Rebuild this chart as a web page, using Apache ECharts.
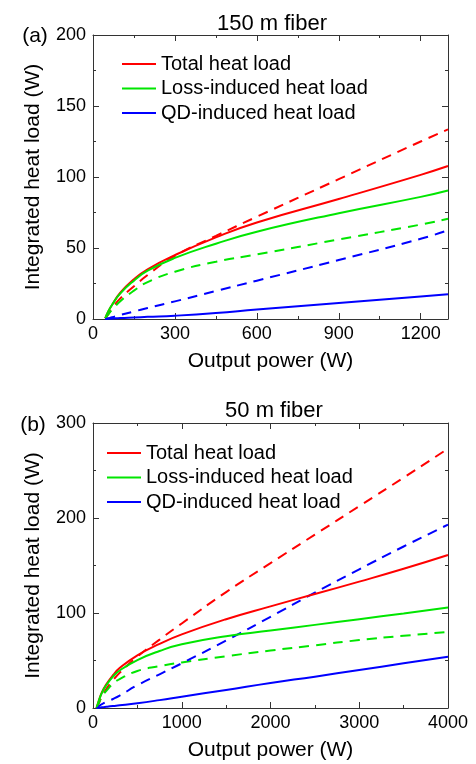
<!DOCTYPE html>
<html>
<head>
<meta charset="utf-8">
<script src="https://cdn.jsdelivr.net/npm/echarts@6/dist/echarts.min.js"></script>
<style>
  html, body { margin: 0; padding: 0; background: #fff; }
  #chart { width: 476px; height: 764px; }
</style>
</head>
<body>
<div id="chart"></div>
<script>
// (a) 150 m fiber
const powerA = [45, 55, 70, 100, 150, 200, 300, 450, 600, 900, 1200, 1300]
const totalA = [0.5, 5, 10, 18.5, 28, 35, 45, 57.5, 68, 84.5, 101.5, 107.7]
const lossA = [0.5, 5, 10, 18, 27, 34, 43, 53, 61.5, 74.5, 86, 90.5]
const qdA = [0, 0.1, 0.3, 0.7, 1.1, 1.5, 2.3, 4.2, 6.7, 11.3, 15.9, 17.4]
const totalDashA = [0.5, 3, 7.5, 14.5, 23, 31, 44.5, 58.5, 72, 98.5, 125, 133.5]
const lossDashA = [0.5, 3, 6.5, 12.5, 20, 26, 33.3, 40.3, 45.5, 56, 66.5, 70.6]
const qdDashA = [0, 0.5, 1.2, 2.8, 5.3, 7.7, 12.4, 19.7, 27, 41.5, 56.5, 62.5]

// (b) 50 m fiber
const powerB = [40, 60, 100, 150, 225, 300, 500, 750, 1000, 1500, 2000, 2500, 3000, 3500, 4000]
const totalB = [0, 6, 16.5, 25, 34.5, 42, 55.5, 67.5, 77.5, 93.5, 107, 120, 133, 146.5, 161]
const lossB = [0, 6, 16, 24, 33, 39.5, 50.5, 60, 67, 75.5, 81.5, 87.5, 93.5, 99.5, 105.8]
const qdB = [0, 0.2, 0.7, 1.3, 2.1, 2.8, 5, 8.3, 11.9, 19, 26.3, 33, 40, 47, 54]
const totalDashB = [0, 4, 12, 20, 29, 37, 54, 72, 89, 122, 152.5, 182.5, 212.5, 242.5, 273]
const lossDashB = [0, 4, 12, 18, 25.5, 30.5, 39, 44, 48, 54.5, 60.5, 66, 71.5, 76, 80]
const qdDashB = [0, 1.5, 4, 6.5, 9.5, 13, 24, 35.5, 47, 71, 96, 121.5, 146, 170, 193]

const names = ['Total heat load', 'Loss-induced heat load', 'QD-induced heat load']
const colors = ['#ff0000', '#00e600', '#0000ff']

const font = 'Liberation Sans, Arial, sans-serif'

function pairs(xs, ys) {
  return xs.map((x, i) => [x, ys[i]])
}

function makeLine(name, xs, ys, color, dashed, idx) {
  return {
    name: name,
    type: 'line',
    xAxisIndex: idx * 2,
    yAxisIndex: idx * 2,
    data: pairs(xs, ys),
    smooth: 0.5,
    symbol: 'none',
    lineStyle: { color: color, width: 2, type: dashed ? [10, 7] : 'solid' },
    itemStyle: { color: color },
    z: dashed ? 2 : 3
  }
}

function xAxes(max, interval, gridIndex, showMax) {
  const base = {
    gridIndex: gridIndex,
    type: 'value',
    min: 0,
    max: max,
    interval: interval,
    axisLine: { show: true, onZero: false, lineStyle: { color: '#333', width: 1 } },
    axisTick: { show: true, inside: true, length: 6, lineStyle: { color: '#333' } },
    minorTick: { show: true, splitNumber: 2, length: 3, lineStyle: { color: '#333' } },
    splitLine: { show: false }
  }
  return [
    Object.assign({}, base, {
      position: 'bottom',
      name: 'Output power (W)',
      nameLocation: 'middle',
      nameGap: 32,
      nameTextStyle: { fontFamily: font, fontSize: 21, color: '#000' },
      axisLabel: {
        fontFamily: font, fontSize: 18, color: '#000', margin: 6,
        showMaxLabel: showMax,
        formatter: (v) => String(v)
      }
    }),
    Object.assign({}, base, { position: 'top', axisLabel: { show: false } })
  ]
}

function yAxes(max, interval, gridIndex) {
  const base = {
    gridIndex: gridIndex,
    type: 'value',
    min: 0,
    max: max,
    interval: interval,
    axisLine: { show: true, onZero: false, lineStyle: { color: '#333', width: 1 } },
    axisTick: { show: true, inside: true, length: 6, lineStyle: { color: '#333' } },
    minorTick: { show: true, splitNumber: 2, length: 3, lineStyle: { color: '#333' } },
    splitLine: { show: false }
  }
  return [
    Object.assign({}, base, {
      position: 'left',
      name: 'Integrated heat load (W)',
      nameLocation: 'middle',
      nameGap: 49,
      nameTextStyle: { fontFamily: font, fontSize: 21, color: '#000' },
      axisLabel: { fontFamily: font, fontSize: 18, color: '#000', margin: 7 }
    }),
    Object.assign({}, base, { position: 'right', axisLabel: { show: false } })
  ]
}

function legend(left, top) {
  return {
    orient: 'vertical',
    left: left,
    top: top,
    data: names,
    icon: 'rect',
    itemWidth: 34,
    itemHeight: 2,
    itemGap: 4.5,
    selectedMode: false,
    textStyle: { fontFamily: font, fontSize: 20, color: '#000', lineHeight: 20 }
  }
}

const chartDom = document.getElementById('chart')
const myChart = echarts.init(chartDom)

const option = {
  animation: false,
  backgroundColor: '#fff',
  title: [
    { text: '150 m fiber', left: 267, top: 8, textAlign: 'center',
      textStyle: { fontFamily: font, fontSize: 22, fontWeight: 'normal', color: '#000' } },
    { text: '50 m fiber', left: 269, top: 395, textAlign: 'center',
      textStyle: { fontFamily: font, fontSize: 22, fontWeight: 'normal', color: '#000' } },
    { text: '(a)', left: 30, top: 21, textAlign: 'center',
      textStyle: { fontFamily: font, fontSize: 21, fontWeight: 'normal', color: '#000' } },
    { text: '(b)', left: 28, top: 410, textAlign: 'center',
      textStyle: { fontFamily: font, fontSize: 21, fontWeight: 'normal', color: '#000' } }
  ],
  legend: [legend(117, 49), legend(102, 438)],
  grid: [
    { left: 93, width: 355, top: 35, height: 284 },
    { left: 93, width: 355, top: 423, height: 285 }
  ],
  xAxis: [].concat(xAxes(1300, 300, 0, false), xAxes(4000, 1000, 1, true)),
  yAxis: [].concat(yAxes(200, 50, 0), yAxes(300, 100, 1)),
  series: [
    makeLine(names[0], powerA, totalA, colors[0], false, 0),
    makeLine(names[1], powerA, lossA, colors[1], false, 0),
    makeLine(names[2], powerA, qdA, colors[2], false, 0),
    makeLine('total-dash-a', powerA, totalDashA, colors[0], true, 0),
    makeLine('loss-dash-a', powerA, lossDashA, colors[1], true, 0),
    makeLine('qd-dash-a', powerA, qdDashA, colors[2], true, 0),
    makeLine(names[0], powerB, totalB, colors[0], false, 1),
    makeLine(names[1], powerB, lossB, colors[1], false, 1),
    makeLine(names[2], powerB, qdB, colors[2], false, 1),
    makeLine('total-dash-b', powerB, totalDashB, colors[0], true, 1),
    makeLine('loss-dash-b', powerB, lossDashB, colors[1], true, 1),
    makeLine('qd-dash-b', powerB, qdDashB, colors[2], true, 1)
  ]
}

option && myChart.setOption(option)
</script>
</body>
</html>
